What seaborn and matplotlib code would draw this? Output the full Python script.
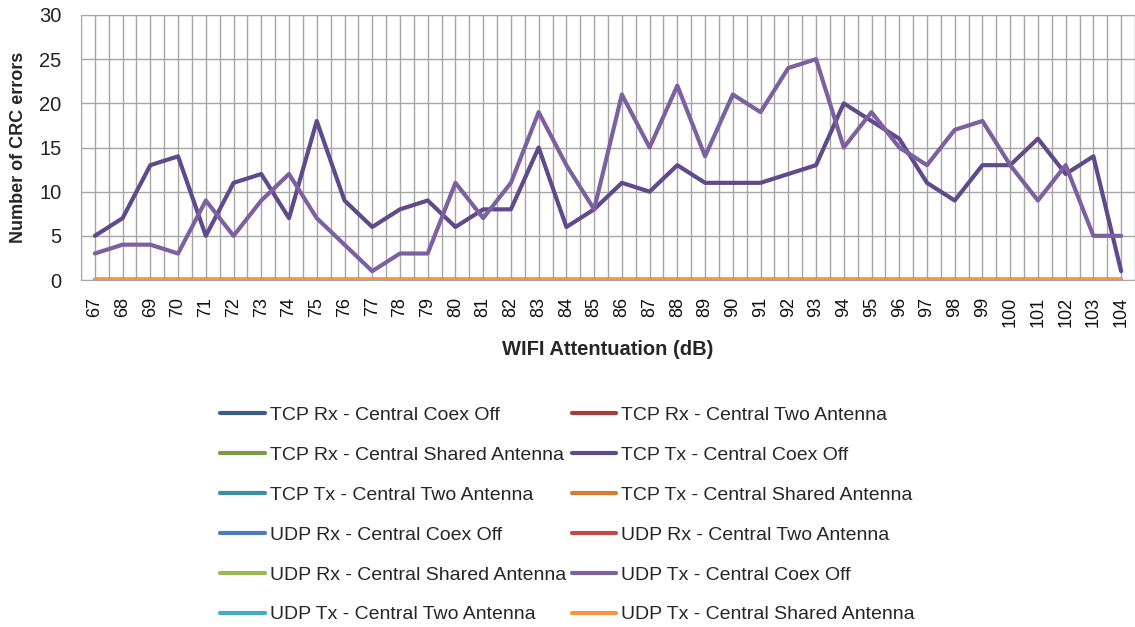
import numpy as np
import pandas as pd
import matplotlib
matplotlib.use("Agg")
import matplotlib.pyplot as plt
import seaborn as sns

# attenuation steps (dB)
attenuation = list(range(67, 105))

# non-zero series
tcp_tx_coex_off = [5, 7, 13, 14, 5, 11, 12, 7, 18, 9, 6, 8, 9, 6, 8, 8, 15, 6, 8, 11,
                   10, 13, 11, 11, 11, 12, 13, 20, 18, 16, 11, 9, 13, 13, 16, 12, 14, 1]
udp_tx_coex_off = [3, 4, 4, 3, 9, 5, 9, 12, 7, 4, 1, 3, 3, 11, 7, 11, 19, 13, 8, 21,
                   15, 22, 14, 21, 19, 24, 25, 15, 19, 15, 13, 17, 18, 13, 9, 13, 5, 5]
zeros = [0] * len(attenuation)

series_names = [
    "TCP Rx - Central Coex Off", "TCP Rx - Central Two Antenna",
    "TCP Rx - Central Shared Antenna", "TCP Tx - Central Coex Off",
    "TCP Tx - Central Two Antenna", "TCP Tx - Central Shared Antenna",
    "UDP Rx - Central Coex Off", "UDP Rx - Central Two Antenna",
    "UDP Rx - Central Shared Antenna", "UDP Tx - Central Coex Off",
    "UDP Tx - Central Two Antenna", "UDP Tx - Central Shared Antenna",
]
series_values = [zeros, zeros, zeros, tcp_tx_coex_off, zeros, zeros,
                 zeros, zeros, zeros, udp_tx_coex_off, zeros, zeros]
series_colors = ["#3a5f8b", "#a33e3b", "#7d9a48", "#5f4b8b", "#3a8fa5", "#d67b30",
                 "#4a7ebb", "#be4b48", "#98b954", "#7d60a0", "#46aac5", "#f69544"]

df = pd.concat([pd.DataFrame({"att": attenuation, "errors": v, "series": n})
                for n, v in zip(series_names, series_values)], ignore_index=True)

sns.set_style("white")
plt.rcParams["font.family"] = ["Liberation Sans", "DejaVu Sans"]

fig = plt.figure(figsize=(11.35, 6.27), dpi=100)
ax = fig.add_axes([81 / 1135, 1 - 280 / 627, 1 - 81 / 1135, 265 / 627])

sns.lineplot(data=df, x="att", y="errors", hue="series", hue_order=series_names,
             palette=dict(zip(series_names, series_colors)), linewidth=3,
             ax=ax, legend=True)

ax.set_xlim(66.5, 104.5)
ax.set_ylim(0, 30)
ax.set_yticks(range(0, 31, 5))
ax.set_xticks(attenuation)
ax.set_xticklabels([str(a) for a in attenuation], rotation=90,
                   fontsize=13, color="#111111")
ax.tick_params(axis="y", labelsize=14.5, colors="#222222", length=0, pad=14)
ax.tick_params(axis="x", length=0, pad=12)

# category gridlines (centres and boundaries), value gridlines
for xv in np.arange(66.5, 105, 0.5):
    ax.axvline(xv, color="#a6a6a6", lw=1, zorder=0)
for yv in range(0, 31, 5):
    ax.axhline(yv, color="#a6a6a6", lw=1, zorder=0)
for s in ax.spines.values():
    s.set_color("#a6a6a6")

ax.set_xlabel("WIFI Attentuation (dB)", fontsize=14.5, fontweight="bold")
ax.set_ylabel("Number of CRC errors", fontsize=13, fontweight="bold")
ax.xaxis.set_label_coords(0.5, (280 - 340) / 265)
ax.yaxis.set_label_coords((27 - 81) / 1054, 0.5)

handles, labels = ax.get_legend_handles_labels()
ax.get_legend().remove()
# legend fills column first; reorder so it reads row by row
order = list(range(0, 12, 2)) + list(range(1, 12, 2))
leg = fig.legend([handles[i] for i in order], [labels[i] for i in order],
                 ncol=2, loc="upper left", bbox_to_anchor=(220 / 1135, 1 - 406 / 627),
                 frameon=False, fontsize=14, handlelength=2.3, handletextpad=0.25,
                 columnspacing=0.3, labelspacing=1.15, borderpad=0, borderaxespad=0)
for line in leg.get_lines():
    line.set_linewidth(3)

fig.savefig("out.png", dpi=100)
